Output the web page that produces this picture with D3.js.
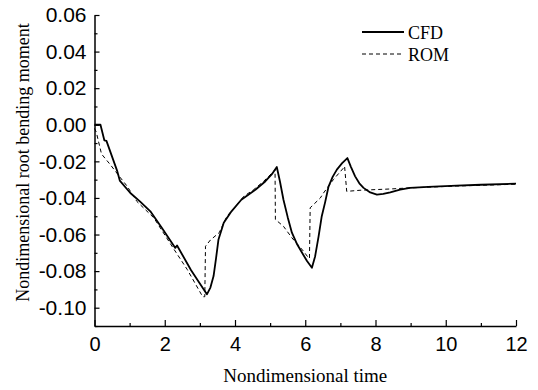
<!DOCTYPE html>
<html>
<head>
<meta charset="utf-8">
<script src="https://cdn.jsdelivr.net/npm/d3@7"></script>
<style>
  html, body { margin: 0; padding: 0; background: #fff; }
  svg { display: block; }
</style>
</head>
<body>
<svg id="chart" width="538" height="390"></svg>
<script>
// ---- data ----
const seriesNames = ["CFD", "ROM"];
const xTickValues = [0, 2, 4, 6, 8, 10, 12];
const yTickValues = [-0.10, -0.08, -0.06, -0.04, -0.02, 0.00, 0.02, 0.04, 0.06];
const xTitle = "Nondimensional time";
const yTitle = "Nondimensional root bending moment";

const cfdX = [0, 0.17, 0.28, 0.34, 0.65, 0.72, 1.02, 1.30, 1.59, 1.92, 2.30, 2.35, 2.75, 3.20, 3.30, 3.39, 3.46, 3.53, 3.68, 3.90, 4.18, 4.58, 4.86, 5.05, 5.19, 5.28, 5.38, 5.50, 5.62, 5.76, 5.91, 6.05, 6.19, 6.28, 6.38, 6.47, 6.57, 6.66, 6.78, 6.90, 7.05, 7.20, 7.30, 7.42, 7.54, 7.66, 7.85, 8.04, 8.22, 8.42, 8.70, 8.98, 9.50, 10.31, 11.0, 12.0];
const cfdY = [0.000, 0.000, -0.0085, -0.0088, -0.0255, -0.0305, -0.0373, -0.0420, -0.0473, -0.0564, -0.0673, -0.0660, -0.0795, -0.0927, -0.0890, -0.0827, -0.0730, -0.0627, -0.0536, -0.0473, -0.0410, -0.0355, -0.0310, -0.0270, -0.0231, -0.0310, -0.0410, -0.0505, -0.0590, -0.0650, -0.0700, -0.0745, -0.0782, -0.0720, -0.0610, -0.0500, -0.0420, -0.0340, -0.0285, -0.0245, -0.0210, -0.0182, -0.0230, -0.0282, -0.0320, -0.0345, -0.0370, -0.0382, -0.0378, -0.0369, -0.0355, -0.0345, -0.0340, -0.0333, -0.0328, -0.0322];

const romX = [0, 0.05, 0.20, 0.45, 0.74, 0.93, 1.21, 1.69, 2.26, 2.64, 3.08, 3.14, 3.16, 3.30, 3.55, 3.77, 4.00, 4.25, 4.53, 4.81, 5.10, 5.14, 5.15, 5.38, 5.62, 5.95, 6.09, 6.12, 6.14, 6.43, 6.52, 6.80, 7.09, 7.12, 7.18, 7.56, 8.42, 8.98, 10.3, 12.0];
const romY = [-0.002, -0.004, -0.0160, -0.0218, -0.0290, -0.0336, -0.0420, -0.0509, -0.0680, -0.0791, -0.0940, -0.0940, -0.0664, -0.0630, -0.0590, -0.0500, -0.0450, -0.0391, -0.0355, -0.0310, -0.0255, -0.0245, -0.0518, -0.0555, -0.0618, -0.0691, -0.0727, -0.0730, -0.0454, -0.0400, -0.0373, -0.0300, -0.0236, -0.0227, -0.0364, -0.0358, -0.0351, -0.0345, -0.0335, -0.0325];

// ---- layout ----
const svg = d3.select("#chart");
const x = d3.scaleLinear().domain([0, 12]).range([94.5, 516]);
const y = d3.scaleLinear().domain([-0.11, 0.06]).range([326, 15]);

const cfd = cfdX.map((v, i) => [v, cfdY[i]]);
const rom = romX.map((v, i) => [v, romY[i]]);

const line = d3.line().x(d => x(d[0])).y(d => y(d[1])).curve(d3.curveLinear);

// minor ticks
const xMinor = d3.range(1, 12, 2);
const yMinor = d3.range(-0.11, 0.06, 0.02).map(v => +v.toFixed(2));

const gxMinor = svg.append("g").attr("transform", `translate(0,${y(-0.11)})`)
  .call(d3.axisBottom(x).tickValues(xMinor).tickSize(-3).tickFormat(""));
const gyMinor = svg.append("g").attr("transform", `translate(${x(0)},0)`)
  .call(d3.axisLeft(y).tickValues(yMinor).tickSize(-3).tickFormat(""));
[gxMinor, gyMinor].forEach(g => { g.select(".domain").remove(); g.selectAll("line").attr("stroke", "#000").attr("stroke-width", 1.2); });

const gx = svg.append("g").attr("transform", `translate(0,${y(-0.11)})`)
  .call(d3.axisBottom(x).tickValues(xTickValues).tickSize(-6).tickSizeOuter(0).tickPadding(11).tickFormat(d3.format("d")));
const gy = svg.append("g").attr("transform", `translate(${x(0)},0)`)
  .call(d3.axisLeft(y).tickValues(yTickValues).tickSize(-5).tickSizeOuter(0).tickPadding(8).tickFormat(d3.format(".2f")));

[gx, gy].forEach(g => {
  g.select(".domain").attr("stroke", "#000").attr("stroke-width", 1.5);
  g.selectAll(".tick line").attr("stroke", "#000").attr("stroke-width", 1.2);
  g.selectAll("text").attr("fill", "#000").style("font-family", "'Liberation Sans', Arial, sans-serif").style("font-size", "20px");
});
gy.selectAll("text").style("font-size", "21px").text(d => d3.format(".2f")(d).replace("−", "-"));

// curves
svg.append("path").datum(rom).attr("d", line)
  .attr("fill", "none").attr("stroke", "#000").attr("stroke-width", 1).attr("stroke-dasharray", "4,3");
svg.append("path").datum(cfd).attr("d", line)
  .attr("fill", "none").attr("stroke", "#000").attr("stroke-width", 1.8).attr("stroke-linejoin", "round");

// titles
svg.append("text").attr("x", (x(0) + x(12)) / 2).attr("y", 382)
  .attr("text-anchor", "middle")
  .style("font-family", "'Liberation Serif', 'Times New Roman', serif").style("font-size", "19px")
  .text(xTitle);
svg.append("text").attr("transform", `translate(29,${(y(-0.11) + y(0.06)) / 2 - 8}) rotate(-90)`)
  .attr("text-anchor", "middle")
  .style("font-family", "'Liberation Serif', 'Times New Roman', serif").style("font-size", "18px")
  .text(yTitle);

// legend
const legend = svg.append("g");
const legendItems = [
  { name: seriesNames[0], dash: null, w: 1.8, ly: 32, ty: 38.5 },
  { name: seriesNames[1], dash: "4,3", w: 1, ly: 54, ty: 60.5 }
];
legendItems.forEach(it => {
  legend.append("line").attr("x1", 362).attr("x2", 404).attr("y1", it.ly).attr("y2", it.ly)
    .attr("stroke", "#000").attr("stroke-width", it.w).attr("stroke-dasharray", it.dash);
  legend.append("text").attr("x", 408).attr("y", it.ty)
    .style("font-family", "'Liberation Serif', 'Times New Roman', serif").style("font-size", "18px")
    .text(it.name);
});
</script>
</body>
</html>
